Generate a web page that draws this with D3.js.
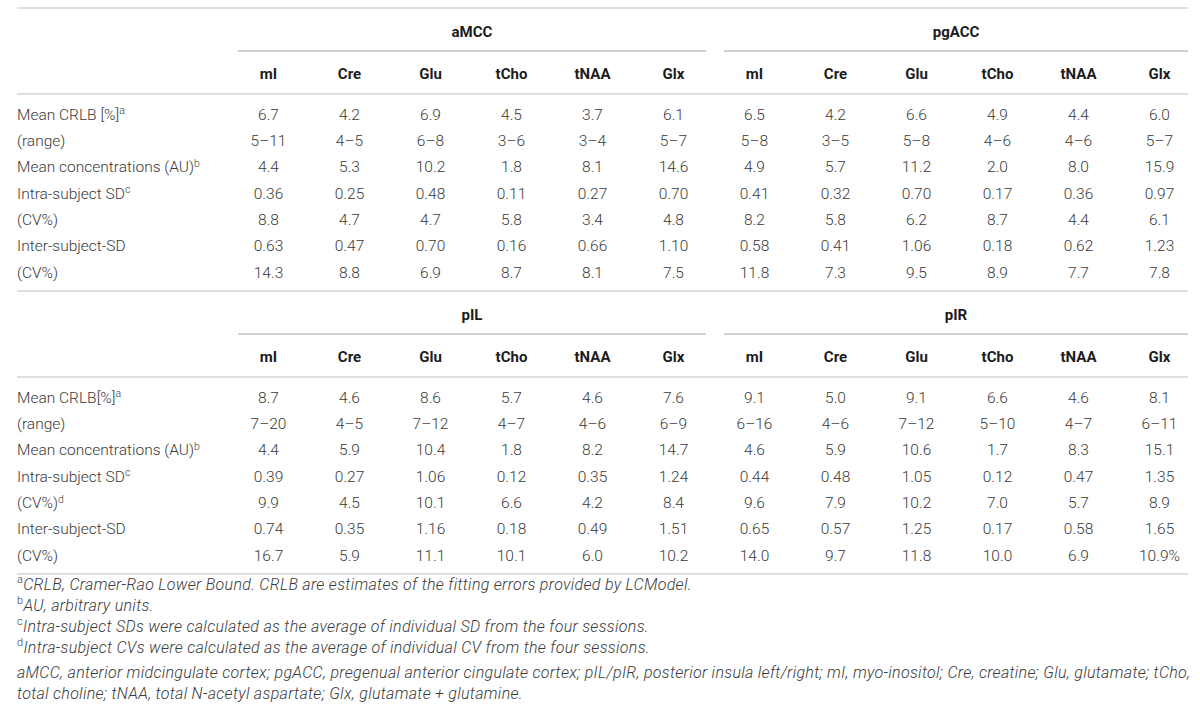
<!DOCTYPE html>
<html>
<head>
<meta charset="utf-8">
<script src="https://cdn.jsdelivr.net/npm/d3@7"></script>
<style>
  body { margin: 0; background: #fff; }
  svg text { font-family: Roboto, "Helvetica Neue", Arial, sans-serif; }
</style>
</head>
<body>
<div class="metaboliteTable"></div>
<script>
// ---- table content ----
var metabolites = ["mI", "Cre", "Glu", "tCho", "tNAA", "Glx"];
var regionsTop = ["aMCC", "pgACC"];
var regionsBottom = ["pIL", "pIR"];

// [label, superscript]
var labelsTop = [["Mean CRLB [%]", "a"], ["(range)", ""], ["Mean concentrations (AU)", "b"],
  ["Intra-subject SD", "c"], ["(CV%)", ""], ["Inter-subject-SD", ""], ["(CV%)", ""]];
var labelsBottom = [["Mean CRLB[%]", "a"], ["(range)", ""], ["Mean concentrations (AU)", "b"],
  ["Intra-subject SD", "c"], ["(CV%)", "d"], ["Inter-subject-SD", ""], ["(CV%)", ""]];

var aMCC = [
  ["6.7", "4.2", "6.9", "4.5", "3.7", "6.1"],
  ["5–11", "4–5", "6–8", "3–6", "3–4", "5–7"],
  ["4.4", "5.3", "10.2", "1.8", "8.1", "14.6"],
  ["0.36", "0.25", "0.48", "0.11", "0.27", "0.70"],
  ["8.8", "4.7", "4.7", "5.8", "3.4", "4.8"],
  ["0.63", "0.47", "0.70", "0.16", "0.66", "1.10"],
  ["14.3", "8.8", "6.9", "8.7", "8.1", "7.5"]
];
var pgACC = [
  ["6.5", "4.2", "6.6", "4.9", "4.4", "6.0"],
  ["5–8", "3–5", "5–8", "4–6", "4–6", "5–7"],
  ["4.9", "5.7", "11.2", "2.0", "8.0", "15.9"],
  ["0.41", "0.32", "0.70", "0.17", "0.36", "0.97"],
  ["8.2", "5.8", "6.2", "8.7", "4.4", "6.1"],
  ["0.58", "0.41", "1.06", "0.18", "0.62", "1.23"],
  ["11.8", "7.3", "9.5", "8.9", "7.7", "7.8"]
];
var pIL = [
  ["8.7", "4.6", "8.6", "5.7", "4.6", "7.6"],
  ["7–20", "4–5", "7–12", "4–7", "4–6", "6–9"],
  ["4.4", "5.9", "10.4", "1.8", "8.2", "14.7"],
  ["0.39", "0.27", "1.06", "0.12", "0.35", "1.24"],
  ["9.9", "4.5", "10.1", "6.6", "4.2", "8.4"],
  ["0.74", "0.35", "1.16", "0.18", "0.49", "1.51"],
  ["16.7", "5.9", "11.1", "10.1", "6.0", "10.2"]
];
var pIR = [
  ["9.1", "5.0", "9.1", "6.6", "4.6", "8.1"],
  ["6–16", "4–6", "7–12", "5–10", "4–7", "6–11"],
  ["4.6", "5.9", "10.6", "1.7", "8.3", "15.1"],
  ["0.44", "0.48", "1.05", "0.12", "0.47", "1.35"],
  ["9.6", "7.9", "10.2", "7.0", "5.7", "8.9"],
  ["0.65", "0.57", "1.25", "0.17", "0.58", "1.65"],
  ["14.0", "9.7", "11.8", "10.0", "6.9", "10.9%"]
];

// [superscript, text] - one entry per printed line
var footnotes = [
  ["a", "CRLB, Cramer-Rao Lower Bound. CRLB are estimates of the fitting errors provided by LCModel."],
  ["b", "AU, arbitrary units."],
  ["c", "Intra-subject SDs were calculated as the average of individual SD from the four sessions."],
  ["d", "Intra-subject CVs were calculated as the average of individual CV from the four sessions."],
  ["", "aMCC, anterior midcingulate cortex; pgACC, pregenual anterior cingulate cortex; pIL/pIR, posterior insula left/right; mI, myo-inositol; Cre, creatine; Glu, glutamate; tCho,"],
  ["", "total choline; tNAA, total N-acetyl aspartate; Glx, glutamate + glutamine."]
];

var valuesByRegion = { aMCC: aMCC, pgACC: pgACC, pIL: pIL, pIR: pIR };

// ---- layout ----
var width = 1200, height = 712;
var tableLeft = 17, tableRight = 1188;
var dataLeft = 228, dataRight = 1200;
var sectionHeight = 283;
var ruleColor = "#d4d4d4", groupRuleColor = "#a6a6a6";
var bodyColor = "#3a3a3a", headColor = "#1c1c1c";

var sections = [
  { top: 8, regions: regionsTop, labels: labelsTop },
  { top: 8 + sectionHeight, regions: regionsBottom, labels: labelsBottom }
];

var svg = d3.select(".metaboliteTable").append("svg")
  .attr("width", width)
  .attr("height", height);

svg.append("rect").attr("width", width).attr("height", height).attr("fill", "#fff");

// groups and columns share one horizontal layout for both halves
var groupX = d3.scaleBand().domain([0, 1]).range([dataLeft, dataRight]);
var colX = d3.scaleBand().domain(metabolites).range([0, groupX.bandwidth()]);

function hRule(y, x1, x2, color) {
  svg.append("line")
    .attr("x1", x1).attr("x2", x2)
    .attr("y1", y).attr("y2", y)
    .attr("stroke", color)
    .attr("stroke-width", 1.3);
}

// top rule
hRule(sections[0].top, tableLeft, tableRight, ruleColor);

sections.forEach(function(sec) {
  var top = sec.top;
  var rowY = d3.scaleLinear().domain([0, 6]).range([top + 106, top + 106 + 158]);
  var g = svg.append("g").attr("class", "section");

  sec.regions.forEach(function(region, gi) {
    var gx = groupX(gi);
    var ux1 = gx + 10;
    var ux2 = Math.min(gx + groupX.bandwidth() - 8, tableRight);

    // region header + underline
    g.append("text")
      .attr("x", (ux1 + ux2) / 2)
      .attr("y", top + 24)
      .attr("dy", "0.355em")
      .attr("text-anchor", "middle")
      .attr("font-size", 15)
      .attr("font-weight", 700)
      .attr("fill", headColor)
      .text(region);

    g.append("line")
      .attr("x1", ux1).attr("x2", ux2)
      .attr("y1", top + 43).attr("y2", top + 43)
      .attr("stroke", groupRuleColor)
      .attr("stroke-width", 1.1);

    // metabolite headers
    g.selectAll(".colhead-" + gi)
      .data(metabolites)
      .enter()
      .append("text")
      .attr("class", "colhead-" + gi)
      .attr("x", function(d) { return gx + colX(d) + colX.bandwidth() / 2; })
      .attr("y", top + 66)
      .attr("dy", "0.355em")
      .attr("text-anchor", "middle")
      .attr("font-size", 15)
      .attr("font-weight", 700)
      .attr("fill", headColor)
      .text(function(d) { return d; });

    // values
    var rows = valuesByRegion[region];
    rows.forEach(function(row, ri) {
      g.selectAll(".cell-" + gi + "-" + ri)
        .data(row)
        .enter()
        .append("text")
        .attr("class", "cell-" + gi + "-" + ri)
        .attr("x", function(d, ci) { return gx + colX(metabolites[ci]) + colX.bandwidth() / 2; })
        .attr("y", rowY(ri))
        .attr("dy", "0.355em")
        .attr("text-anchor", "middle")
        .attr("font-size", 15.5)
        .attr("font-weight", 300)
        .attr("fill", bodyColor)
        .text(function(d) { return d; });
    });
  });

  // rule under the metabolite header row
  hRule(top + 86, tableLeft, tableRight, ruleColor);

  // row labels
  var lab = g.selectAll(".rowlabel")
    .data(sec.labels)
    .enter()
    .append("text")
    .attr("class", "rowlabel")
    .attr("x", tableLeft)
    .attr("y", function(d, i) { return rowY(i); })
    .attr("dy", "0.355em")
    .attr("font-size", 15.5)
    .attr("font-weight", 300)
    .attr("fill", bodyColor);
  lab.append("tspan").text(function(d) { return d[0]; });
  lab.append("tspan")
    .attr("dy", "-0.5em")
    .attr("font-size", 10.5)
    .text(function(d) { return d[1]; });

  // section bottom rule
  hRule(top + sectionHeight, tableLeft, tableRight, ruleColor);
});

// footnotes
var noteTop = sections[1].top + sectionHeight + 14;
var noteY = d3.scaleLinear().domain([0, 1]).range([noteTop, noteTop + 21]);
var notes = svg.selectAll(".footnote")
  .data(footnotes)
  .enter()
  .append("text")
  .attr("class", "footnote")
  .attr("x", tableLeft)
  .attr("y", function(d, i) { return noteY(i); })
  .attr("dy", "0.355em")
  .attr("font-size", 16)
  .attr("letter-spacing", 0.3)
  .attr("font-weight", 300)
  .attr("fill", bodyColor);
notes.append("tspan")
  .attr("dy", "-0.42em")
  .attr("font-size", 11)
  .text(function(d) { return d[0]; });
notes.append("tspan")
  .attr("dy", function(d) { return d[0] ? "0.42em" : null; })
  .attr("font-style", "italic")
  .text(function(d) { return d[1]; });
</script>
</body>
</html>
